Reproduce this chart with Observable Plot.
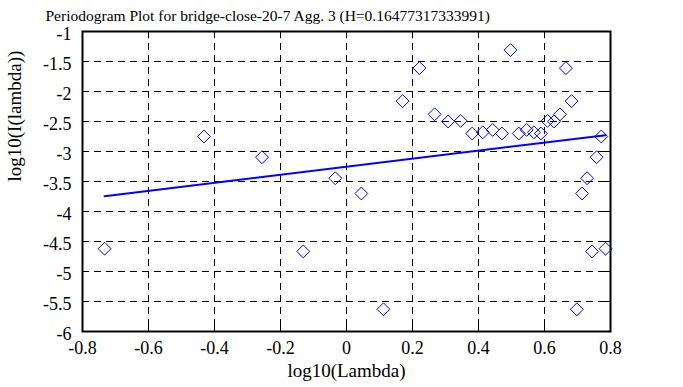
<!DOCTYPE html>
<html>
<head>
<meta charset="utf-8">
<script src="https://cdn.jsdelivr.net/npm/d3@7"></script>
<script src="https://cdn.jsdelivr.net/npm/@observablehq/plot@0.6"></script>
<style>
  html, body { margin: 0; padding: 0; background: white; }
</style>
</head>
<body>
<div id="chart"></div>
<script>
const title = "Periodogram Plot for bridge-close-20-7 Agg. 3 (H=0.16477317333991)";
const xLabel = "log10(Lambda)";
const yLabel = "log10(I(lambda))";

const logLambda = [-0.733, -0.432, -0.256, -0.131, -0.034, 0.045, 0.112, 0.170, 0.221, 0.267, 0.308,
  0.346, 0.381, 0.413, 0.443, 0.471, 0.497, 0.522, 0.546, 0.568, 0.589, 0.609,
  0.629, 0.647, 0.665, 0.682, 0.698, 0.714, 0.729, 0.744, 0.758, 0.772, 0.785];
const logI = [-4.62, -2.75, -3.095, -4.665, -3.445, -3.70, -5.63, -2.16, -1.61, -2.38, -2.50,
  -2.49, -2.70, -2.68, -2.64, -2.70, -1.31, -2.70, -2.64, -2.68, -2.70, -2.49,
  -2.50, -2.38, -1.61, -2.16, -5.63, -3.70, -3.445, -4.665, -3.095, -2.75, -4.62];

const fitX = [-0.733, 0.785];
const fitY = [-3.745, -2.728];

const xTicks = [-0.8, -0.6, -0.4, -0.2, 0, 0.2, 0.4, 0.6, 0.8];
const yTicks = [-1, -1.5, -2, -2.5, -3, -3.5, -4, -4.5, -5, -5.5, -6];

const points = logLambda.map((x, i) => ({x, y: logI[i]}));
const fit = fitX.map((x, i) => ({x, y: fitY[i]}));
const fmt = d => String(d);
const serif = "Liberation Serif";

const chart = Plot.plot({
  width: 683,
  height: 387,
  marginLeft: 82,
  marginRight: 73,
  marginTop: 31,
  marginBottom: 56,
  style: {fontFamily: serif, fontSize: "18px", background: "white", color: "black"},
  x: {domain: [-0.8, 0.8], label: null, axis: null},
  y: {domain: [-6, -1], label: null, axis: null},
  marks: [
    Plot.ruleX(xTicks, {x: d => d, stroke: "black", strokeWidth: 1, strokeDasharray: "7,5"}),
    Plot.ruleY(yTicks, {y: d => d, stroke: "black", strokeWidth: 1, strokeDasharray: "7,5"}),
    Plot.ruleX(xTicks, {x: d => d, y1: -1, y2: -1.12, stroke: "black"}),
    Plot.ruleX(xTicks, {x: d => d, y1: -6, y2: -5.88, stroke: "black"}),
    Plot.ruleY(yTicks, {y: d => d, x1: 0.8, x2: 0.778, stroke: "black"}),
    Plot.ruleY(yTicks, {y: d => d, x1: -0.8, x2: -0.778, stroke: "black"}),
    Plot.text(xTicks, {x: d => d, text: fmt, frameAnchor: "bottom", lineAnchor: "top", dy: 10, fontSize: 18, fontFamily: serif}),
    Plot.text(yTicks, {y: d => d, text: fmt, frameAnchor: "left", textAnchor: "end", dx: -11, dy: 3, fontSize: 18, fontFamily: serif}),
    Plot.frame({stroke: "black", strokeWidth: 2}),
    Plot.line(fit, {x: "x", y: "y", stroke: "blue", strokeWidth: 2}),
    Plot.dot(points, {x: "x", y: "y", symbol: "diamond2", r: 5.8, stroke: "blue", strokeWidth: 1}),
    Plot.text([title], {frameAnchor: "top-left", textAnchor: "start", dx: -37, dy: -22, fontSize: 15.5, fontFamily: serif}),
    Plot.text([xLabel], {frameAnchor: "bottom", dy: 45, fontSize: 19, fontFamily: serif}),
    Plot.text([yLabel], {frameAnchor: "left", dx: -68, rotate: -90, fontSize: 19, fontFamily: serif})
  ]
});
document.getElementById("chart").appendChild(chart);
</script>
</body>
</html>
